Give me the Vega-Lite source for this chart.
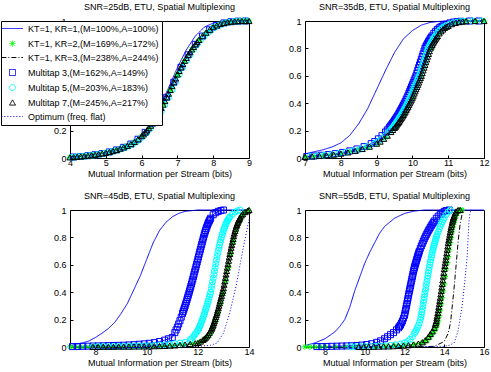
{
"$schema":"https://vega.github.io/schema/vega-lite/v6.json",
"padding":{"left":0,"top":2,"right":2,"bottom":2},
"config":{
"font":"Liberation Sans",
"view":{"stroke":"black","strokeWidth":1},
"axis":{"grid":false,"domain":false,"tickColor":"black","tickSize":-3,"labelColor":"black","labelFontSize":9,"titleFontSize":9,"titleFontWeight":"normal","titleColor":"black","labelFlush":false},
"axisX":{"labelPadding":3,"titlePadding":2},
"axisY":{"labelPadding":7},
"title":{"fontSize":9,"fontWeight":"normal","color":"black","offset":4},
"line":{"strokeWidth":1,"clip":true},
"point":{"filled":false,"strokeWidth":1,"size":36,"opacity":1,"clip":true}
},
"datasets":{
"p1":[
{"s":"a","x":4,"y":0.006},{"s":"a","x":4.5,"y":0.018},{"s":"a","x":5,"y":0.04},{"s":"a","x":5.5,"y":0.082},{"s":"a","x":5.75,"y":0.115},{"s":"a","x":6,"y":0.17},{"s":"a","x":6.25,"y":0.25},{"s":"a","x":6.5,"y":0.37},{"s":"a","x":6.75,"y":0.51},{"s":"a","x":7,"y":0.66},{"s":"a","x":7.25,"y":0.79},{"s":"a","x":7.5,"y":0.89},{"s":"a","x":7.75,"y":0.955},{"s":"a","x":8,"y":0.985},{"s":"a","x":8.25,"y":0.997},{"s":"a","x":8.5,"y":1},{"s":"a","x":9,"y":1},
{"s":"b","x":4,"y":0.005},{"s":"b","x":4.2,"y":0.009},{"s":"b","x":4.4,"y":0.014},{"s":"b","x":4.6,"y":0.02},{"s":"b","x":4.8,"y":0.028},{"s":"b","x":5,"y":0.038},{"s":"b","x":5.2,"y":0.051},{"s":"b","x":5.4,"y":0.068},{"s":"b","x":5.6,"y":0.089},{"s":"b","x":5.8,"y":0.118},{"s":"b","x":6,"y":0.16},{"s":"b","x":6.2,"y":0.218},{"s":"b","x":6.4,"y":0.295},{"s":"b","x":6.6,"y":0.39},{"s":"b","x":6.8,"y":0.497},{"s":"b","x":7,"y":0.61},{"s":"b","x":7.2,"y":0.71},{"s":"b","x":7.4,"y":0.793},{"s":"b","x":7.6,"y":0.862},{"s":"b","x":7.8,"y":0.915},{"s":"b","x":8,"y":0.955},{"s":"b","x":8.2,"y":0.978},{"s":"b","x":8.4,"y":0.991},{"s":"b","x":8.6,"y":0.997},{"s":"b","x":8.8,"y":1},{"s":"b","x":9,"y":1},
{"s":"c","x":4,"y":0.005},{"s":"c","x":4.25,"y":0.01},{"s":"c","x":4.5,"y":0.017},{"s":"c","x":4.75,"y":0.026},{"s":"c","x":5,"y":0.038},{"s":"c","x":5.25,"y":0.055},{"s":"c","x":5.5,"y":0.078},{"s":"c","x":5.75,"y":0.11},{"s":"c","x":6,"y":0.16},{"s":"c","x":6.25,"y":0.235},{"s":"c","x":6.5,"y":0.34},{"s":"c","x":6.75,"y":0.47},{"s":"c","x":7,"y":0.61},{"s":"c","x":7.25,"y":0.73},{"s":"c","x":7.5,"y":0.83},{"s":"c","x":7.75,"y":0.905},{"s":"c","x":8,"y":0.955},{"s":"c","x":8.25,"y":0.982},{"s":"c","x":8.5,"y":0.995},{"s":"c","x":8.75,"y":1},{"s":"c","x":9,"y":1},
{"s":"d","x":4.1,"y":0.007},{"s":"d","x":4.3,"y":0.011},{"s":"d","x":4.5,"y":0.017},{"s":"d","x":4.7,"y":0.024},{"s":"d","x":4.9,"y":0.033},{"s":"d","x":5.1,"y":0.044},{"s":"d","x":5.3,"y":0.059},{"s":"d","x":5.5,"y":0.078},{"s":"d","x":5.7,"y":0.102},{"s":"d","x":5.9,"y":0.137},{"s":"d","x":6.1,"y":0.187},{"s":"d","x":6.3,"y":0.254},{"s":"d","x":6.5,"y":0.34},{"s":"d","x":6.7,"y":0.443},{"s":"d","x":6.9,"y":0.553},{"s":"d","x":7.1,"y":0.662},{"s":"d","x":7.3,"y":0.753},{"s":"d","x":7.5,"y":0.83},{"s":"d","x":7.7,"y":0.89},{"s":"d","x":7.9,"y":0.936},{"s":"d","x":8.1,"y":0.968},{"s":"d","x":8.3,"y":0.986},{"s":"d","x":8.5,"y":0.995},{"s":"d","x":8.7,"y":0.999},{"s":"d","x":8.9,"y":1},
{"s":"e","x":4.05,"y":0.005},{"s":"e","x":4.15,"y":0.007},{"s":"e","x":4.25,"y":0.009},{"s":"e","x":4.35,"y":0.011},{"s":"e","x":4.45,"y":0.014},{"s":"e","x":4.55,"y":0.017},{"s":"e","x":4.65,"y":0.02},{"s":"e","x":4.75,"y":0.024},{"s":"e","x":4.85,"y":0.028},{"s":"e","x":4.95,"y":0.033},{"s":"e","x":5.05,"y":0.038},{"s":"e","x":5.15,"y":0.044},{"s":"e","x":5.25,"y":0.051},{"s":"e","x":5.35,"y":0.059},{"s":"e","x":5.45,"y":0.068},{"s":"e","x":5.55,"y":0.078},{"s":"e","x":5.65,"y":0.089},{"s":"e","x":5.75,"y":0.102},{"s":"e","x":5.85,"y":0.118},{"s":"e","x":5.95,"y":0.137},{"s":"e","x":6.05,"y":0.16},{"s":"e","x":6.15,"y":0.187},{"s":"e","x":6.25,"y":0.218},{"s":"e","x":6.35,"y":0.254},{"s":"e","x":6.45,"y":0.295},{"s":"e","x":6.55,"y":0.34},{"s":"e","x":6.65,"y":0.39},{"s":"e","x":6.75,"y":0.443},{"s":"e","x":6.85,"y":0.497},{"s":"e","x":6.95,"y":0.553},{"s":"e","x":7.05,"y":0.61},{"s":"e","x":7.15,"y":0.662},{"s":"e","x":7.25,"y":0.71},{"s":"e","x":7.35,"y":0.753},{"s":"e","x":7.45,"y":0.793},{"s":"e","x":7.55,"y":0.83},{"s":"e","x":7.65,"y":0.862},{"s":"e","x":7.75,"y":0.89},{"s":"e","x":7.85,"y":0.915},{"s":"e","x":7.95,"y":0.936},{"s":"e","x":8.05,"y":0.955},{"s":"e","x":8.15,"y":0.968},{"s":"e","x":8.25,"y":0.978},{"s":"e","x":8.35,"y":0.986},{"s":"e","x":8.45,"y":0.991},{"s":"e","x":8.55,"y":0.995},{"s":"e","x":8.65,"y":0.997},{"s":"e","x":8.75,"y":0.999},{"s":"e","x":8.85,"y":1},{"s":"e","x":8.95,"y":1},
{"s":"f","x":4,"y":0.005},{"s":"f","x":4.1,"y":0.007},{"s":"f","x":4.2,"y":0.009},{"s":"f","x":4.3,"y":0.011},{"s":"f","x":4.4,"y":0.014},{"s":"f","x":4.5,"y":0.017},{"s":"f","x":4.6,"y":0.02},{"s":"f","x":4.7,"y":0.024},{"s":"f","x":4.8,"y":0.028},{"s":"f","x":4.9,"y":0.033},{"s":"f","x":5,"y":0.038},{"s":"f","x":5.1,"y":0.044},{"s":"f","x":5.2,"y":0.051},{"s":"f","x":5.3,"y":0.059},{"s":"f","x":5.4,"y":0.068},{"s":"f","x":5.5,"y":0.078},{"s":"f","x":5.6,"y":0.089},{"s":"f","x":5.7,"y":0.102},{"s":"f","x":5.8,"y":0.118},{"s":"f","x":5.9,"y":0.137},{"s":"f","x":6,"y":0.16},{"s":"f","x":6.1,"y":0.187},{"s":"f","x":6.2,"y":0.218},{"s":"f","x":6.3,"y":0.254},{"s":"f","x":6.4,"y":0.295},{"s":"f","x":6.5,"y":0.34},{"s":"f","x":6.6,"y":0.39},{"s":"f","x":6.7,"y":0.443},{"s":"f","x":6.8,"y":0.497},{"s":"f","x":6.9,"y":0.553},{"s":"f","x":7,"y":0.61},{"s":"f","x":7.1,"y":0.662},{"s":"f","x":7.2,"y":0.71},{"s":"f","x":7.3,"y":0.753},{"s":"f","x":7.4,"y":0.793},{"s":"f","x":7.5,"y":0.83},{"s":"f","x":7.6,"y":0.862},{"s":"f","x":7.7,"y":0.89},{"s":"f","x":7.8,"y":0.915},{"s":"f","x":7.9,"y":0.936},{"s":"f","x":8,"y":0.955},{"s":"f","x":8.1,"y":0.968},{"s":"f","x":8.2,"y":0.978},{"s":"f","x":8.3,"y":0.986},{"s":"f","x":8.4,"y":0.991},{"s":"f","x":8.5,"y":0.995},{"s":"f","x":8.6,"y":0.997},{"s":"f","x":8.7,"y":0.999},{"s":"f","x":8.8,"y":1},{"s":"f","x":8.9,"y":1},{"s":"f","x":9,"y":1},
{"s":"f","x":6.05,"y":0.173},{"s":"f","x":6.15,"y":0.202},{"s":"f","x":6.25,"y":0.236},{"s":"f","x":6.35,"y":0.274},{"s":"f","x":6.45,"y":0.317},{"s":"f","x":6.55,"y":0.365},{"s":"f","x":6.65,"y":0.416},{"s":"f","x":6.75,"y":0.47},{"s":"f","x":6.85,"y":0.525},{"s":"f","x":6.95,"y":0.581},{"s":"f","x":7.05,"y":0.636},{"s":"f","x":7.15,"y":0.686},{"s":"f","x":7.25,"y":0.731},{"s":"f","x":7.35,"y":0.773},{"s":"f","x":7.45,"y":0.811},{"s":"f","x":7.55,"y":0.846},
{"s":"g","x":4,"y":0.005},{"s":"g","x":4.25,"y":0.01},{"s":"g","x":4.5,"y":0.017},{"s":"g","x":4.75,"y":0.026},{"s":"g","x":5,"y":0.038},{"s":"g","x":5.25,"y":0.055},{"s":"g","x":5.5,"y":0.078},{"s":"g","x":5.75,"y":0.11},{"s":"g","x":6,"y":0.16},{"s":"g","x":6.25,"y":0.235},{"s":"g","x":6.5,"y":0.34},{"s":"g","x":6.75,"y":0.47},{"s":"g","x":7,"y":0.61},{"s":"g","x":7.25,"y":0.73},{"s":"g","x":7.5,"y":0.83},{"s":"g","x":7.75,"y":0.905},{"s":"g","x":8,"y":0.955},{"s":"g","x":8.25,"y":0.982},{"s":"g","x":8.5,"y":0.995},{"s":"g","x":8.75,"y":1},{"s":"g","x":9,"y":1}
],
"p2":[
{"s":"a","x":7,"y":0.03},{"s":"a","x":7.25,"y":0.045},{"s":"a","x":7.5,"y":0.06},{"s":"a","x":7.75,"y":0.08},{"s":"a","x":8,"y":0.11},{"s":"a","x":8.25,"y":0.165},{"s":"a","x":8.5,"y":0.25},{"s":"a","x":8.75,"y":0.36},{"s":"a","x":9,"y":0.5},{"s":"a","x":9.25,"y":0.64},{"s":"a","x":9.5,"y":0.77},{"s":"a","x":9.75,"y":0.87},{"s":"a","x":10,"y":0.93},{"s":"a","x":10.25,"y":0.97},{"s":"a","x":10.5,"y":0.99},{"s":"a","x":10.75,"y":0.997},{"s":"a","x":11,"y":1},{"s":"a","x":12,"y":1},
{"s":"b","x":7,"y":0.008},{"s":"b","x":7.25,"y":0.012},{"s":"b","x":7.5,"y":0.017},{"s":"b","x":7.75,"y":0.024},{"s":"b","x":8,"y":0.032},{"s":"b","x":8.25,"y":0.043},{"s":"b","x":8.5,"y":0.058},{"s":"b","x":8.75,"y":0.078},{"s":"b","x":9,"y":0.105},{"s":"b","x":9.25,"y":0.15},{"s":"b","x":9.5,"y":0.22},{"s":"b","x":9.75,"y":0.315},{"s":"b","x":10,"y":0.44},{"s":"b","x":10.25,"y":0.6},{"s":"b","x":10.5,"y":0.8},{"s":"b","x":10.75,"y":0.91},{"s":"b","x":11,"y":0.965},{"s":"b","x":11.25,"y":0.99},{"s":"b","x":11.5,"y":0.998},{"s":"b","x":11.75,"y":1},{"s":"b","x":12,"y":1},
{"s":"c","x":7,"y":0.008},{"s":"c","x":7.25,"y":0.012},{"s":"c","x":7.5,"y":0.017},{"s":"c","x":7.75,"y":0.024},{"s":"c","x":8,"y":0.032},{"s":"c","x":8.25,"y":0.043},{"s":"c","x":8.5,"y":0.058},{"s":"c","x":8.75,"y":0.078},{"s":"c","x":9,"y":0.105},{"s":"c","x":9.25,"y":0.15},{"s":"c","x":9.5,"y":0.22},{"s":"c","x":9.75,"y":0.315},{"s":"c","x":10,"y":0.44},{"s":"c","x":10.25,"y":0.6},{"s":"c","x":10.5,"y":0.8},{"s":"c","x":10.75,"y":0.91},{"s":"c","x":11,"y":0.965},{"s":"c","x":11.25,"y":0.99},{"s":"c","x":11.5,"y":0.998},{"s":"c","x":11.75,"y":1},{"s":"c","x":12,"y":1},
{"s":"d","x":7.05,"y":0.011},{"s":"d","x":7.25,"y":0.015},{"s":"d","x":7.45,"y":0.02},{"s":"d","x":7.65,"y":0.025},{"s":"d","x":7.85,"y":0.032},{"s":"d","x":8.05,"y":0.041},{"s":"d","x":8.25,"y":0.052},{"s":"d","x":8.45,"y":0.066},{"s":"d","x":8.65,"y":0.083},{"s":"d","x":8.85,"y":0.105},{"s":"d","x":8.95,"y":0.12},{"s":"d","x":9.05,"y":0.14},{"s":"d","x":9.15,"y":0.163},{"s":"d","x":9.25,"y":0.19},{"s":"d","x":9.3,"y":0.205},{"s":"d","x":9.35,"y":0.22},{"s":"d","x":9.4,"y":0.237},{"s":"d","x":9.45,"y":0.255},{"s":"d","x":9.5,"y":0.274},{"s":"d","x":9.55,"y":0.294},{"s":"d","x":9.6,"y":0.315},{"s":"d","x":9.65,"y":0.338},{"s":"d","x":9.7,"y":0.362},{"s":"d","x":9.75,"y":0.387},{"s":"d","x":9.8,"y":0.413},{"s":"d","x":9.85,"y":0.44},{"s":"d","x":9.9,"y":0.471},{"s":"d","x":9.95,"y":0.503},{"s":"d","x":10,"y":0.535},{"s":"d","x":10.05,"y":0.568},{"s":"d","x":10.1,"y":0.6},{"s":"d","x":10.15,"y":0.64},{"s":"d","x":10.2,"y":0.68},{"s":"d","x":10.25,"y":0.72},{"s":"d","x":10.3,"y":0.76},{"s":"d","x":10.35,"y":0.8},{"s":"d","x":10.4,"y":0.826},{"s":"d","x":10.45,"y":0.85},{"s":"d","x":10.5,"y":0.871},{"s":"d","x":10.55,"y":0.891},{"s":"d","x":10.6,"y":0.91},{"s":"d","x":10.65,"y":0.925},{"s":"d","x":10.7,"y":0.938},{"s":"d","x":10.75,"y":0.95},{"s":"d","x":10.8,"y":0.958},{"s":"d","x":10.85,"y":0.965},{"s":"d","x":10.95,"y":0.977},{"s":"d","x":11.05,"y":0.986},{"s":"d","x":11.15,"y":0.992},{"s":"d","x":11.25,"y":0.996},{"s":"d","x":11.35,"y":0.998},{"s":"d","x":11.6,"y":1},{"s":"d","x":11.85,"y":1},
{"s":"d","x":9.375,"y":0.228},{"s":"d","x":9.425,"y":0.246},{"s":"d","x":9.475,"y":0.264},{"s":"d","x":9.525,"y":0.284},{"s":"d","x":9.575,"y":0.304},{"s":"d","x":9.625,"y":0.326},{"s":"d","x":9.675,"y":0.35},{"s":"d","x":9.725,"y":0.374},{"s":"d","x":9.775,"y":0.4},{"s":"d","x":9.825,"y":0.426},{"s":"d","x":9.875,"y":0.455},{"s":"d","x":9.925,"y":0.487},{"s":"d","x":9.975,"y":0.519},{"s":"d","x":10.025,"y":0.551},{"s":"d","x":10.075,"y":0.584},{"s":"d","x":10.125,"y":0.62},{"s":"d","x":10.175,"y":0.66},{"s":"d","x":10.225,"y":0.7},{"s":"d","x":10.275,"y":0.74},{"s":"d","x":10.325,"y":0.78},{"s":"d","x":10.375,"y":0.813},{"s":"d","x":10.425,"y":0.838},{"s":"d","x":10.475,"y":0.86},{"s":"d","x":10.525,"y":0.881},
{"s":"e","x":7.14,"y":0.011},{"s":"e","x":7.34,"y":0.015},{"s":"e","x":7.54,"y":0.02},{"s":"e","x":7.74,"y":0.025},{"s":"e","x":7.94,"y":0.032},{"s":"e","x":8.14,"y":0.041},{"s":"e","x":8.34,"y":0.052},{"s":"e","x":8.54,"y":0.066},{"s":"e","x":8.74,"y":0.083},{"s":"e","x":8.94,"y":0.105},{"s":"e","x":9.04,"y":0.12},{"s":"e","x":9.14,"y":0.14},{"s":"e","x":9.24,"y":0.163},{"s":"e","x":9.34,"y":0.19},{"s":"e","x":9.39,"y":0.205},{"s":"e","x":9.44,"y":0.22},{"s":"e","x":9.49,"y":0.237},{"s":"e","x":9.54,"y":0.255},{"s":"e","x":9.59,"y":0.274},{"s":"e","x":9.64,"y":0.294},{"s":"e","x":9.69,"y":0.315},{"s":"e","x":9.74,"y":0.338},{"s":"e","x":9.79,"y":0.362},{"s":"e","x":9.84,"y":0.387},{"s":"e","x":9.89,"y":0.413},{"s":"e","x":9.94,"y":0.44},{"s":"e","x":9.99,"y":0.471},{"s":"e","x":10.04,"y":0.503},{"s":"e","x":10.09,"y":0.535},{"s":"e","x":10.14,"y":0.568},{"s":"e","x":10.19,"y":0.6},{"s":"e","x":10.24,"y":0.64},{"s":"e","x":10.29,"y":0.68},{"s":"e","x":10.34,"y":0.72},{"s":"e","x":10.39,"y":0.76},{"s":"e","x":10.44,"y":0.8},{"s":"e","x":10.49,"y":0.826},{"s":"e","x":10.54,"y":0.85},{"s":"e","x":10.59,"y":0.871},{"s":"e","x":10.64,"y":0.891},{"s":"e","x":10.69,"y":0.91},{"s":"e","x":10.74,"y":0.925},{"s":"e","x":10.79,"y":0.938},{"s":"e","x":10.84,"y":0.95},{"s":"e","x":10.89,"y":0.958},{"s":"e","x":10.94,"y":0.965},{"s":"e","x":11.04,"y":0.977},{"s":"e","x":11.14,"y":0.986},{"s":"e","x":11.24,"y":0.992},{"s":"e","x":11.34,"y":0.996},{"s":"e","x":11.44,"y":0.998},{"s":"e","x":11.69,"y":1},{"s":"e","x":11.94,"y":1},
{"s":"e","x":9.465,"y":0.228},{"s":"e","x":9.515,"y":0.246},{"s":"e","x":9.565,"y":0.264},{"s":"e","x":9.615,"y":0.284},{"s":"e","x":9.665,"y":0.304},{"s":"e","x":9.715,"y":0.326},{"s":"e","x":9.765,"y":0.35},{"s":"e","x":9.815,"y":0.374},{"s":"e","x":9.865,"y":0.4},{"s":"e","x":9.915,"y":0.426},{"s":"e","x":9.965,"y":0.455},{"s":"e","x":10.015,"y":0.487},{"s":"e","x":10.065,"y":0.519},{"s":"e","x":10.115,"y":0.551},{"s":"e","x":10.165,"y":0.584},{"s":"e","x":10.215,"y":0.62},{"s":"e","x":10.265,"y":0.66},{"s":"e","x":10.315,"y":0.7},{"s":"e","x":10.365,"y":0.74},{"s":"e","x":10.415,"y":0.78},{"s":"e","x":10.465,"y":0.813},{"s":"e","x":10.515,"y":0.838},{"s":"e","x":10.565,"y":0.86},{"s":"e","x":10.615,"y":0.881},
{"s":"f","x":7,"y":0.008},{"s":"f","x":7.2,"y":0.011},{"s":"f","x":7.4,"y":0.015},{"s":"f","x":7.6,"y":0.02},{"s":"f","x":7.8,"y":0.025},{"s":"f","x":8,"y":0.032},{"s":"f","x":8.2,"y":0.041},{"s":"f","x":8.4,"y":0.052},{"s":"f","x":8.6,"y":0.066},{"s":"f","x":8.8,"y":0.083},{"s":"f","x":9,"y":0.105},{"s":"f","x":9.1,"y":0.12},{"s":"f","x":9.2,"y":0.14},{"s":"f","x":9.3,"y":0.163},{"s":"f","x":9.4,"y":0.19},{"s":"f","x":9.45,"y":0.205},{"s":"f","x":9.5,"y":0.22},{"s":"f","x":9.55,"y":0.237},{"s":"f","x":9.6,"y":0.255},{"s":"f","x":9.65,"y":0.274},{"s":"f","x":9.7,"y":0.294},{"s":"f","x":9.75,"y":0.315},{"s":"f","x":9.8,"y":0.338},{"s":"f","x":9.85,"y":0.362},{"s":"f","x":9.9,"y":0.387},{"s":"f","x":9.95,"y":0.413},{"s":"f","x":10,"y":0.44},{"s":"f","x":10.05,"y":0.471},{"s":"f","x":10.1,"y":0.503},{"s":"f","x":10.15,"y":0.535},{"s":"f","x":10.2,"y":0.568},{"s":"f","x":10.25,"y":0.6},{"s":"f","x":10.3,"y":0.64},{"s":"f","x":10.35,"y":0.68},{"s":"f","x":10.4,"y":0.72},{"s":"f","x":10.45,"y":0.76},{"s":"f","x":10.5,"y":0.8},{"s":"f","x":10.55,"y":0.826},{"s":"f","x":10.6,"y":0.85},{"s":"f","x":10.65,"y":0.871},{"s":"f","x":10.7,"y":0.891},{"s":"f","x":10.75,"y":0.91},{"s":"f","x":10.8,"y":0.925},{"s":"f","x":10.85,"y":0.938},{"s":"f","x":10.9,"y":0.95},{"s":"f","x":10.95,"y":0.958},{"s":"f","x":11,"y":0.965},{"s":"f","x":11.1,"y":0.977},{"s":"f","x":11.2,"y":0.986},{"s":"f","x":11.3,"y":0.992},{"s":"f","x":11.4,"y":0.996},{"s":"f","x":11.5,"y":0.998},{"s":"f","x":11.75,"y":1},{"s":"f","x":12,"y":1},
{"s":"f","x":9.525,"y":0.228},{"s":"f","x":9.575,"y":0.246},{"s":"f","x":9.625,"y":0.264},{"s":"f","x":9.675,"y":0.284},{"s":"f","x":9.725,"y":0.304},{"s":"f","x":9.775,"y":0.326},{"s":"f","x":9.825,"y":0.35},{"s":"f","x":9.875,"y":0.374},{"s":"f","x":9.925,"y":0.4},{"s":"f","x":9.975,"y":0.426},{"s":"f","x":10.025,"y":0.455},{"s":"f","x":10.075,"y":0.487},{"s":"f","x":10.125,"y":0.519},{"s":"f","x":10.175,"y":0.551},{"s":"f","x":10.225,"y":0.584},{"s":"f","x":10.275,"y":0.62},{"s":"f","x":10.325,"y":0.66},{"s":"f","x":10.375,"y":0.7},{"s":"f","x":10.425,"y":0.74},{"s":"f","x":10.475,"y":0.78},{"s":"f","x":10.525,"y":0.813},{"s":"f","x":10.575,"y":0.838},{"s":"f","x":10.625,"y":0.86},{"s":"f","x":10.675,"y":0.881},
{"s":"g","x":7,"y":0.008},{"s":"g","x":7.25,"y":0.012},{"s":"g","x":7.5,"y":0.017},{"s":"g","x":7.75,"y":0.024},{"s":"g","x":8,"y":0.032},{"s":"g","x":8.25,"y":0.043},{"s":"g","x":8.5,"y":0.058},{"s":"g","x":8.75,"y":0.078},{"s":"g","x":9,"y":0.105},{"s":"g","x":9.25,"y":0.15},{"s":"g","x":9.5,"y":0.22},{"s":"g","x":9.75,"y":0.315},{"s":"g","x":10,"y":0.44},{"s":"g","x":10.25,"y":0.6},{"s":"g","x":10.5,"y":0.8},{"s":"g","x":10.75,"y":0.91},{"s":"g","x":11,"y":0.965},{"s":"g","x":11.25,"y":0.99},{"s":"g","x":11.5,"y":0.998},{"s":"g","x":11.75,"y":1},{"s":"g","x":12,"y":1}
],
"p3":[
{"s":"a","x":7,"y":0.01},{"s":"a","x":7.25,"y":0.02},{"s":"a","x":7.5,"y":0.03},{"s":"a","x":7.75,"y":0.045},{"s":"a","x":8,"y":0.07},{"s":"a","x":8.25,"y":0.1},{"s":"a","x":8.5,"y":0.135},{"s":"a","x":8.75,"y":0.18},{"s":"a","x":9,"y":0.245},{"s":"a","x":9.25,"y":0.32},{"s":"a","x":9.5,"y":0.42},{"s":"a","x":9.75,"y":0.52},{"s":"a","x":10,"y":0.64},{"s":"a","x":10.25,"y":0.76},{"s":"a","x":10.5,"y":0.85},{"s":"a","x":10.75,"y":0.91},{"s":"a","x":11,"y":0.95},{"s":"a","x":11.25,"y":0.975},{"s":"a","x":11.5,"y":0.99},{"s":"a","x":12,"y":1},{"s":"a","x":14,"y":1},
{"s":"b","x":7,"y":0.001},{"s":"b","x":7.2,"y":0.001},{"s":"b","x":7.4,"y":0.001},{"s":"b","x":7.6,"y":0.001},{"s":"b","x":7.8,"y":0.001},{"s":"b","x":8.2,"y":0.002},{"s":"b","x":8.6,"y":0.002},{"s":"b","x":9,"y":0.003},{"s":"b","x":9.4,"y":0.003},{"s":"b","x":9.8,"y":0.004},{"s":"b","x":10.2,"y":0.005},{"s":"b","x":10.6,"y":0.007},{"s":"b","x":11,"y":0.01},{"s":"b","x":11.4,"y":0.016},{"s":"b","x":11.8,"y":0.024},{"s":"b","x":12.04,"y":0.03},{"s":"b","x":12.14,"y":0.04},{"s":"b","x":12.24,"y":0.052},{"s":"b","x":12.29,"y":0.06},{"s":"b","x":12.39,"y":0.078},{"s":"b","x":12.49,"y":0.104},{"s":"b","x":12.59,"y":0.14},{"s":"b","x":12.69,"y":0.19},{"s":"b","x":12.79,"y":0.25},{"s":"b","x":12.89,"y":0.32},{"s":"b","x":12.99,"y":0.393},{"s":"b","x":13.09,"y":0.48},{"s":"b","x":13.19,"y":0.58},{"s":"b","x":13.29,"y":0.68},{"s":"b","x":13.39,"y":0.768},{"s":"b","x":13.49,"y":0.848},{"s":"b","x":13.59,"y":0.905},{"s":"b","x":13.69,"y":0.945},{"s":"b","x":13.79,"y":0.97},{"s":"b","x":13.89,"y":0.985},{"s":"b","x":13.99,"y":0.995},
{"s":"c","x":7.9,"y":0.001},{"s":"c","x":9,"y":0.002},{"s":"c","x":10,"y":0.003},{"s":"c","x":11,"y":0.006},{"s":"c","x":11.5,"y":0.012},{"s":"c","x":12,"y":0.025},{"s":"c","x":12.25,"y":0.045},{"s":"c","x":12.5,"y":0.09},{"s":"c","x":12.75,"y":0.2},{"s":"c","x":13,"y":0.38},{"s":"c","x":13.25,"y":0.62},{"s":"c","x":13.5,"y":0.84},{"s":"c","x":13.75,"y":0.95},{"s":"c","x":14,"y":0.99},
{"s":"d","x":7.1,"y":0.003},{"s":"d","x":7.3,"y":0.004},{"s":"d","x":7.5,"y":0.005},{"s":"d","x":7.7,"y":0.006},{"s":"d","x":7.9,"y":0.007},{"s":"d","x":8.1,"y":0.008},{"s":"d","x":8.3,"y":0.009},{"s":"d","x":8.5,"y":0.01},{"s":"d","x":8.7,"y":0.011},{"s":"d","x":8.9,"y":0.012},{"s":"d","x":9.1,"y":0.013},{"s":"d","x":9.3,"y":0.015},{"s":"d","x":9.5,"y":0.017},{"s":"d","x":9.7,"y":0.02},{"s":"d","x":9.9,"y":0.023},{"s":"d","x":10.1,"y":0.027},{"s":"d","x":10.3,"y":0.032},{"s":"d","x":10.5,"y":0.04},{"s":"d","x":10.7,"y":0.05},{"s":"d","x":10.85,"y":0.06},{"s":"d","x":11,"y":0.07},{"s":"d","x":11.1,"y":0.105},{"s":"d","x":11.2,"y":0.145},{"s":"d","x":11.3,"y":0.192},{"s":"d","x":11.4,"y":0.245},{"s":"d","x":11.45,"y":0.272},{"s":"d","x":11.5,"y":0.3},{"s":"d","x":11.55,"y":0.33},{"s":"d","x":11.6,"y":0.362},{"s":"d","x":11.65,"y":0.394},{"s":"d","x":11.7,"y":0.427},{"s":"d","x":11.75,"y":0.46},{"s":"d","x":11.8,"y":0.495},{"s":"d","x":11.85,"y":0.531},{"s":"d","x":11.9,"y":0.567},{"s":"d","x":11.95,"y":0.603},{"s":"d","x":12,"y":0.64},{"s":"d","x":12.05,"y":0.677},{"s":"d","x":12.1,"y":0.713},{"s":"d","x":12.15,"y":0.749},{"s":"d","x":12.2,"y":0.785},{"s":"d","x":12.25,"y":0.82},{"s":"d","x":12.3,"y":0.85},{"s":"d","x":12.35,"y":0.877},{"s":"d","x":12.4,"y":0.902},{"s":"d","x":12.45,"y":0.922},{"s":"d","x":12.5,"y":0.94},{"s":"d","x":12.6,"y":0.965},{"s":"d","x":12.7,"y":0.98},{"s":"d","x":12.8,"y":0.99},{"s":"d","x":12.9,"y":0.996},{"s":"d","x":13,"y":1},
{"s":"d","x":11.15,"y":0.125},{"s":"d","x":11.25,"y":0.168},{"s":"d","x":11.35,"y":0.218},{"s":"d","x":11.425,"y":0.258},{"s":"d","x":11.475,"y":0.286},{"s":"d","x":11.525,"y":0.315},{"s":"d","x":11.575,"y":0.346},{"s":"d","x":11.625,"y":0.378},{"s":"d","x":11.675,"y":0.41},{"s":"d","x":11.725,"y":0.443},{"s":"d","x":11.775,"y":0.477},{"s":"d","x":11.825,"y":0.513},{"s":"d","x":11.875,"y":0.549},{"s":"d","x":11.925,"y":0.585},{"s":"d","x":11.975,"y":0.621},{"s":"d","x":12.025,"y":0.658},{"s":"d","x":12.075,"y":0.695},{"s":"d","x":12.125,"y":0.731},{"s":"d","x":12.175,"y":0.767},{"s":"d","x":12.225,"y":0.802},{"s":"d","x":12.275,"y":0.835},{"s":"d","x":12.325,"y":0.863},{"s":"d","x":12.375,"y":0.89},{"s":"d","x":12.425,"y":0.912},{"s":"d","x":12.475,"y":0.931},
{"s":"e","x":7.9,"y":0.002},{"s":"e","x":8.1,"y":0.002},{"s":"e","x":8.3,"y":0.003},{"s":"e","x":8.5,"y":0.003},{"s":"e","x":8.7,"y":0.004},{"s":"e","x":8.9,"y":0.004},{"s":"e","x":9.1,"y":0.005},{"s":"e","x":9.3,"y":0.005},{"s":"e","x":9.5,"y":0.006},{"s":"e","x":9.7,"y":0.007},{"s":"e","x":9.9,"y":0.008},{"s":"e","x":10.1,"y":0.009},{"s":"e","x":10.3,"y":0.011},{"s":"e","x":10.5,"y":0.013},{"s":"e","x":10.7,"y":0.016},{"s":"e","x":10.9,"y":0.02},{"s":"e","x":11.1,"y":0.024},{"s":"e","x":11.3,"y":0.029},{"s":"e","x":11.5,"y":0.035},{"s":"e","x":11.7,"y":0.053},{"s":"e","x":11.75,"y":0.06},{"s":"e","x":11.8,"y":0.07},{"s":"e","x":11.85,"y":0.082},{"s":"e","x":11.9,"y":0.095},{"s":"e","x":11.95,"y":0.108},{"s":"e","x":12,"y":0.12},{"s":"e","x":12.05,"y":0.14},{"s":"e","x":12.1,"y":0.162},{"s":"e","x":12.15,"y":0.187},{"s":"e","x":12.2,"y":0.213},{"s":"e","x":12.25,"y":0.24},{"s":"e","x":12.3,"y":0.27},{"s":"e","x":12.35,"y":0.3},{"s":"e","x":12.4,"y":0.333},{"s":"e","x":12.45,"y":0.366},{"s":"e","x":12.5,"y":0.4},{"s":"e","x":12.55,"y":0.45},{"s":"e","x":12.6,"y":0.502},{"s":"e","x":12.65,"y":0.555},{"s":"e","x":12.7,"y":0.607},{"s":"e","x":12.75,"y":0.66},{"s":"e","x":12.8,"y":0.705},{"s":"e","x":12.85,"y":0.745},{"s":"e","x":12.9,"y":0.785},{"s":"e","x":12.95,"y":0.82},{"s":"e","x":13,"y":0.85},{"s":"e","x":13.05,"y":0.875},{"s":"e","x":13.1,"y":0.9},{"s":"e","x":13.15,"y":0.92},{"s":"e","x":13.2,"y":0.937},{"s":"e","x":13.25,"y":0.95},{"s":"e","x":13.35,"y":0.97},{"s":"e","x":13.45,"y":0.985},{"s":"e","x":13.55,"y":0.994},{"s":"e","x":13.65,"y":1},
{"s":"e","x":12.025,"y":0.13},{"s":"e","x":12.075,"y":0.151},{"s":"e","x":12.125,"y":0.174},{"s":"e","x":12.175,"y":0.2},{"s":"e","x":12.225,"y":0.226},{"s":"e","x":12.275,"y":0.255},{"s":"e","x":12.325,"y":0.285},{"s":"e","x":12.375,"y":0.316},{"s":"e","x":12.425,"y":0.349},{"s":"e","x":12.475,"y":0.383},{"s":"e","x":12.525,"y":0.425},{"s":"e","x":12.575,"y":0.476},{"s":"e","x":12.625,"y":0.528},{"s":"e","x":12.675,"y":0.581},{"s":"e","x":12.725,"y":0.633},{"s":"e","x":12.775,"y":0.682},{"s":"e","x":12.825,"y":0.725},{"s":"e","x":12.875,"y":0.765},{"s":"e","x":12.925,"y":0.802},{"s":"e","x":12.975,"y":0.835},{"s":"e","x":13.025,"y":0.862},{"s":"e","x":13.075,"y":0.887},{"s":"e","x":13.125,"y":0.91},{"s":"e","x":13.175,"y":0.928},{"s":"e","x":13.225,"y":0.943},
{"s":"f","x":7.9,"y":0.001},{"s":"f","x":8.1,"y":0.001},{"s":"f","x":8.3,"y":0.002},{"s":"f","x":8.5,"y":0.002},{"s":"f","x":8.7,"y":0.002},{"s":"f","x":8.9,"y":0.003},{"s":"f","x":9.1,"y":0.003},{"s":"f","x":9.3,"y":0.003},{"s":"f","x":9.5,"y":0.004},{"s":"f","x":9.7,"y":0.004},{"s":"f","x":9.9,"y":0.005},{"s":"f","x":10.1,"y":0.005},{"s":"f","x":10.3,"y":0.006},{"s":"f","x":10.5,"y":0.007},{"s":"f","x":10.7,"y":0.008},{"s":"f","x":10.9,"y":0.01},{"s":"f","x":11.1,"y":0.012},{"s":"f","x":11.3,"y":0.015},{"s":"f","x":11.5,"y":0.018},{"s":"f","x":11.7,"y":0.022},{"s":"f","x":11.9,"y":0.027},{"s":"f","x":12,"y":0.03},{"s":"f","x":12.1,"y":0.04},{"s":"f","x":12.2,"y":0.052},{"s":"f","x":12.25,"y":0.06},{"s":"f","x":12.3,"y":0.068},{"s":"f","x":12.35,"y":0.078},{"s":"f","x":12.4,"y":0.09},{"s":"f","x":12.45,"y":0.104},{"s":"f","x":12.5,"y":0.12},{"s":"f","x":12.55,"y":0.14},{"s":"f","x":12.6,"y":0.163},{"s":"f","x":12.65,"y":0.19},{"s":"f","x":12.7,"y":0.22},{"s":"f","x":12.75,"y":0.25},{"s":"f","x":12.8,"y":0.284},{"s":"f","x":12.85,"y":0.32},{"s":"f","x":12.9,"y":0.356},{"s":"f","x":12.95,"y":0.393},{"s":"f","x":13,"y":0.43},{"s":"f","x":13.05,"y":0.48},{"s":"f","x":13.1,"y":0.53},{"s":"f","x":13.15,"y":0.58},{"s":"f","x":13.2,"y":0.63},{"s":"f","x":13.25,"y":0.68},{"s":"f","x":13.3,"y":0.725},{"s":"f","x":13.35,"y":0.768},{"s":"f","x":13.4,"y":0.81},{"s":"f","x":13.45,"y":0.848},{"s":"f","x":13.5,"y":0.88},{"s":"f","x":13.55,"y":0.905},{"s":"f","x":13.6,"y":0.927},{"s":"f","x":13.65,"y":0.945},{"s":"f","x":13.7,"y":0.96},{"s":"f","x":13.75,"y":0.97},{"s":"f","x":13.85,"y":0.985},{"s":"f","x":13.95,"y":0.995},{"s":"f","x":14,"y":1},
{"s":"f","x":12.525,"y":0.13},{"s":"f","x":12.575,"y":0.151},{"s":"f","x":12.625,"y":0.176},{"s":"f","x":12.675,"y":0.205},{"s":"f","x":12.725,"y":0.235},{"s":"f","x":12.775,"y":0.267},{"s":"f","x":12.825,"y":0.302},{"s":"f","x":12.875,"y":0.338},{"s":"f","x":12.925,"y":0.374},{"s":"f","x":12.975,"y":0.411},{"s":"f","x":13.025,"y":0.455},{"s":"f","x":13.075,"y":0.505},{"s":"f","x":13.125,"y":0.555},{"s":"f","x":13.175,"y":0.605},{"s":"f","x":13.225,"y":0.655},{"s":"f","x":13.275,"y":0.702},{"s":"f","x":13.325,"y":0.746},{"s":"f","x":13.375,"y":0.789},{"s":"f","x":13.425,"y":0.829},{"s":"f","x":13.475,"y":0.864},{"s":"f","x":13.525,"y":0.892},{"s":"f","x":13.575,"y":0.916},{"s":"f","x":13.625,"y":0.936},
{"s":"g","x":7.9,"y":0.001},{"s":"g","x":10,"y":0.001},{"s":"g","x":11.5,"y":0.002},{"s":"g","x":12,"y":0.005},{"s":"g","x":12.5,"y":0.012},{"s":"g","x":12.75,"y":0.03},{"s":"g","x":13,"y":0.1},{"s":"g","x":13.25,"y":0.25},{"s":"g","x":13.5,"y":0.45},{"s":"g","x":13.75,"y":0.7},{"s":"g","x":14,"y":0.93}
],
"p4":[
{"s":"a","x":7,"y":0.01},{"s":"a","x":7.5,"y":0.03},{"s":"a","x":8,"y":0.06},{"s":"a","x":8.5,"y":0.11},{"s":"a","x":8.75,"y":0.15},{"s":"a","x":9,"y":0.2},{"s":"a","x":9.25,"y":0.29},{"s":"a","x":9.5,"y":0.41},{"s":"a","x":9.75,"y":0.51},{"s":"a","x":10,"y":0.61},{"s":"a","x":10.25,"y":0.69},{"s":"a","x":10.5,"y":0.76},{"s":"a","x":10.75,"y":0.83},{"s":"a","x":11,"y":0.88},{"s":"a","x":11.5,"y":0.94},{"s":"a","x":12,"y":0.975},{"s":"a","x":12.5,"y":0.992},{"s":"a","x":13,"y":1},{"s":"a","x":16,"y":1},
{"s":"b","x":7,"y":0.001},{"s":"b","x":7.25,"y":0.001},{"s":"b","x":7.5,"y":0.001},{"s":"b","x":7.75,"y":0.002},{"s":"b","x":8,"y":0.002},{"s":"b","x":8.5,"y":0.002},{"s":"b","x":9,"y":0.003},{"s":"b","x":9.5,"y":0.003},{"s":"b","x":10,"y":0.004},{"s":"b","x":10.5,"y":0.005},{"s":"b","x":11,"y":0.006},{"s":"b","x":11.5,"y":0.008},{"s":"b","x":12,"y":0.011},{"s":"b","x":12.5,"y":0.017},{"s":"b","x":12.8,"y":0.025},{"s":"b","x":13,"y":0.035},{"s":"b","x":13.15,"y":0.05},{"s":"b","x":13.3,"y":0.075},{"s":"b","x":13.4,"y":0.095},{"s":"b","x":13.5,"y":0.115},{"s":"b","x":13.6,"y":0.14},{"s":"b","x":13.65,"y":0.163},{"s":"b","x":13.7,"y":0.19},{"s":"b","x":13.75,"y":0.228},{"s":"b","x":13.8,"y":0.27},{"s":"b","x":13.85,"y":0.315},{"s":"b","x":13.9,"y":0.36},{"s":"b","x":13.95,"y":0.41},{"s":"b","x":14,"y":0.46},{"s":"b","x":14.05,"y":0.515},{"s":"b","x":14.1,"y":0.57},{"s":"b","x":14.15,"y":0.615},{"s":"b","x":14.2,"y":0.66},{"s":"b","x":14.25,"y":0.71},{"s":"b","x":14.3,"y":0.76},{"s":"b","x":14.35,"y":0.8},{"s":"b","x":14.4,"y":0.84},{"s":"b","x":14.45,"y":0.877},{"s":"b","x":14.5,"y":0.91},{"s":"b","x":14.55,"y":0.937},{"s":"b","x":14.6,"y":0.96},{"s":"b","x":14.65,"y":0.977},{"s":"b","x":14.7,"y":0.99},{"s":"b","x":14.8,"y":1},{"s":"b","x":14.9,"y":1},
{"s":"c","x":9.7,"y":0.001},{"s":"c","x":12,"y":0.002},{"s":"c","x":13,"y":0.003},{"s":"c","x":13.5,"y":0.005},{"s":"c","x":14,"y":0.04},{"s":"c","x":14.2,"y":0.1},{"s":"c","x":14.32,"y":0.18},{"s":"c","x":14.49,"y":0.42},{"s":"c","x":14.6,"y":0.6},{"s":"c","x":14.7,"y":0.77},{"s":"c","x":14.8,"y":0.9},{"s":"c","x":14.9,"y":0.97},{"s":"c","x":15,"y":1},
{"s":"d","x":7.6,"y":0.003},{"s":"d","x":7.85,"y":0.003},{"s":"d","x":8.1,"y":0.004},{"s":"d","x":8.35,"y":0.005},{"s":"d","x":8.6,"y":0.006},{"s":"d","x":8.85,"y":0.007},{"s":"d","x":9.1,"y":0.008},{"s":"d","x":9.35,"y":0.009},{"s":"d","x":9.6,"y":0.011},{"s":"d","x":9.85,"y":0.014},{"s":"d","x":10.1,"y":0.018},{"s":"d","x":10.35,"y":0.024},{"s":"d","x":10.6,"y":0.034},{"s":"d","x":10.8,"y":0.045},{"s":"d","x":11,"y":0.06},{"s":"d","x":11.15,"y":0.075},{"s":"d","x":11.3,"y":0.09},{"s":"d","x":11.45,"y":0.105},{"s":"d","x":11.6,"y":0.125},{"s":"d","x":11.7,"y":0.14},{"s":"d","x":11.8,"y":0.16},{"s":"d","x":11.9,"y":0.19},{"s":"d","x":12,"y":0.23},{"s":"d","x":12.05,"y":0.265},{"s":"d","x":12.1,"y":0.3},{"s":"d","x":12.15,"y":0.337},{"s":"d","x":12.2,"y":0.374},{"s":"d","x":12.25,"y":0.41},{"s":"d","x":12.3,"y":0.445},{"s":"d","x":12.35,"y":0.48},{"s":"d","x":12.4,"y":0.515},{"s":"d","x":12.45,"y":0.55},{"s":"d","x":12.5,"y":0.58},{"s":"d","x":12.55,"y":0.605},{"s":"d","x":12.6,"y":0.63},{"s":"d","x":12.65,"y":0.655},{"s":"d","x":12.7,"y":0.678},{"s":"d","x":12.75,"y":0.7},{"s":"d","x":12.8,"y":0.72},{"s":"d","x":12.85,"y":0.738},{"s":"d","x":12.9,"y":0.756},{"s":"d","x":12.95,"y":0.773},{"s":"d","x":13,"y":0.79},{"s":"d","x":13.1,"y":0.82},{"s":"d","x":13.2,"y":0.848},{"s":"d","x":13.3,"y":0.873},{"s":"d","x":13.4,"y":0.897},{"s":"d","x":13.5,"y":0.92},{"s":"d","x":13.6,"y":0.94},{"s":"d","x":13.7,"y":0.955},{"s":"d","x":13.8,"y":0.968},{"s":"d","x":13.9,"y":0.978},{"s":"d","x":14,"y":0.99},{"s":"d","x":14.1,"y":0.996},{"s":"d","x":14.25,"y":1},
{"s":"d","x":11.75,"y":0.15},{"s":"d","x":11.85,"y":0.175},{"s":"d","x":11.95,"y":0.21},{"s":"d","x":12.025,"y":0.247},{"s":"d","x":12.075,"y":0.282},{"s":"d","x":12.125,"y":0.318},{"s":"d","x":12.175,"y":0.355},{"s":"d","x":12.225,"y":0.392},{"s":"d","x":12.275,"y":0.427},{"s":"d","x":12.325,"y":0.462},{"s":"d","x":12.375,"y":0.497},{"s":"d","x":12.425,"y":0.532},{"s":"d","x":12.475,"y":0.565},{"s":"d","x":12.525,"y":0.592},{"s":"d","x":12.575,"y":0.617},{"s":"d","x":12.625,"y":0.642},{"s":"d","x":12.675,"y":0.666},{"s":"d","x":12.725,"y":0.689},{"s":"d","x":13.05,"y":0.805},{"s":"d","x":13.15,"y":0.834},{"s":"d","x":13.25,"y":0.86},{"s":"d","x":13.35,"y":0.885},{"s":"d","x":13.45,"y":0.908},
{"s":"e","x":9.3,"y":0.002},{"s":"e","x":9.55,"y":0.002},{"s":"e","x":9.8,"y":0.003},{"s":"e","x":10.05,"y":0.003},{"s":"e","x":10.3,"y":0.004},{"s":"e","x":10.55,"y":0.005},{"s":"e","x":10.8,"y":0.007},{"s":"e","x":11.05,"y":0.009},{"s":"e","x":11.3,"y":0.012},{"s":"e","x":11.55,"y":0.016},{"s":"e","x":11.8,"y":0.022},{"s":"e","x":12,"y":0.03},{"s":"e","x":12.15,"y":0.04},{"s":"e","x":12.28,"y":0.056},{"s":"e","x":12.4,"y":0.075},{"s":"e","x":12.5,"y":0.1},{"s":"e","x":12.55,"y":0.112},{"s":"e","x":12.6,"y":0.125},{"s":"e","x":12.65,"y":0.14},{"s":"e","x":12.7,"y":0.157},{"s":"e","x":12.75,"y":0.177},{"s":"e","x":12.8,"y":0.2},{"s":"e","x":12.85,"y":0.235},{"s":"e","x":12.9,"y":0.275},{"s":"e","x":12.95,"y":0.32},{"s":"e","x":13,"y":0.365},{"s":"e","x":13.05,"y":0.41},{"s":"e","x":13.1,"y":0.455},{"s":"e","x":13.15,"y":0.5},{"s":"e","x":13.2,"y":0.54},{"s":"e","x":13.25,"y":0.58},{"s":"e","x":13.3,"y":0.62},{"s":"e","x":13.35,"y":0.655},{"s":"e","x":13.4,"y":0.69},{"s":"e","x":13.45,"y":0.72},{"s":"e","x":13.5,"y":0.75},{"s":"e","x":13.55,"y":0.775},{"s":"e","x":13.6,"y":0.8},{"s":"e","x":13.65,"y":0.822},{"s":"e","x":13.7,"y":0.842},{"s":"e","x":13.75,"y":0.862},{"s":"e","x":13.8,"y":0.88},{"s":"e","x":13.85,"y":0.897},{"s":"e","x":13.9,"y":0.913},{"s":"e","x":13.95,"y":0.928},{"s":"e","x":14,"y":0.942},{"s":"e","x":14.1,"y":0.966},{"s":"e","x":14.2,"y":0.985},{"s":"e","x":14.3,"y":1},
{"s":"e","x":12.825,"y":0.217},{"s":"e","x":12.875,"y":0.255},{"s":"e","x":12.925,"y":0.297},{"s":"e","x":12.975,"y":0.342},{"s":"e","x":13.025,"y":0.387},{"s":"e","x":13.075,"y":0.432},{"s":"e","x":13.125,"y":0.477},{"s":"e","x":13.175,"y":0.52},{"s":"e","x":13.225,"y":0.56},{"s":"e","x":13.275,"y":0.6},{"s":"e","x":13.325,"y":0.637},{"s":"e","x":13.375,"y":0.672},{"s":"e","x":13.425,"y":0.705},{"s":"e","x":13.475,"y":0.735},{"s":"e","x":13.525,"y":0.762},{"s":"e","x":13.575,"y":0.787},{"s":"e","x":13.625,"y":0.811},
{"s":"f","x":9.7,"y":0.001},{"s":"f","x":9.95,"y":0.001},{"s":"f","x":10.2,"y":0.002},{"s":"f","x":10.45,"y":0.002},{"s":"f","x":10.7,"y":0.003},{"s":"f","x":10.95,"y":0.004},{"s":"f","x":11.2,"y":0.005},{"s":"f","x":11.45,"y":0.006},{"s":"f","x":11.7,"y":0.008},{"s":"f","x":11.95,"y":0.01},{"s":"f","x":12.2,"y":0.013},{"s":"f","x":12.45,"y":0.018},{"s":"f","x":12.7,"y":0.025},{"s":"f","x":12.9,"y":0.035},{"s":"f","x":13.05,"y":0.05},{"s":"f","x":13.2,"y":0.075},{"s":"f","x":13.3,"y":0.095},{"s":"f","x":13.4,"y":0.115},{"s":"f","x":13.5,"y":0.14},{"s":"f","x":13.55,"y":0.163},{"s":"f","x":13.6,"y":0.19},{"s":"f","x":13.65,"y":0.228},{"s":"f","x":13.7,"y":0.27},{"s":"f","x":13.75,"y":0.315},{"s":"f","x":13.8,"y":0.36},{"s":"f","x":13.85,"y":0.41},{"s":"f","x":13.9,"y":0.46},{"s":"f","x":13.95,"y":0.515},{"s":"f","x":14,"y":0.57},{"s":"f","x":14.05,"y":0.615},{"s":"f","x":14.1,"y":0.66},{"s":"f","x":14.15,"y":0.71},{"s":"f","x":14.2,"y":0.76},{"s":"f","x":14.25,"y":0.8},{"s":"f","x":14.3,"y":0.84},{"s":"f","x":14.35,"y":0.877},{"s":"f","x":14.4,"y":0.91},{"s":"f","x":14.45,"y":0.937},{"s":"f","x":14.5,"y":0.96},{"s":"f","x":14.55,"y":0.977},{"s":"f","x":14.6,"y":0.99},{"s":"f","x":14.7,"y":1},{"s":"f","x":14.8,"y":1},
{"s":"f","x":13.575,"y":0.176},{"s":"f","x":13.625,"y":0.209},{"s":"f","x":13.675,"y":0.249},{"s":"f","x":13.725,"y":0.292},{"s":"f","x":13.775,"y":0.337},{"s":"f","x":13.825,"y":0.385},{"s":"f","x":13.875,"y":0.435},{"s":"f","x":13.925,"y":0.487},{"s":"f","x":13.975,"y":0.542},{"s":"f","x":14.025,"y":0.592},{"s":"f","x":14.075,"y":0.637},{"s":"f","x":14.125,"y":0.685},{"s":"f","x":14.175,"y":0.735},{"s":"f","x":14.225,"y":0.78},{"s":"f","x":14.275,"y":0.82},{"s":"f","x":14.325,"y":0.858},{"s":"f","x":14.375,"y":0.893},{"s":"f","x":14.425,"y":0.923},{"s":"f","x":14.475,"y":0.948},
{"s":"g","x":9.7,"y":0.001},{"s":"g","x":12,"y":0.001},{"s":"g","x":14,"y":0.005},{"s":"g","x":14.25,"y":0.012},{"s":"g","x":14.5,"y":0.03},{"s":"g","x":14.7,"y":0.12},{"s":"g","x":14.9,"y":0.3},{"s":"g","x":15.05,"y":0.5},{"s":"g","x":15.16,"y":0.67},{"s":"g","x":15.2,"y":0.8},{"s":"g","x":15.25,"y":0.92},{"s":"g","x":15.3,"y":0.98},{"s":"g","x":15.35,"y":1}
]
},
"vconcat":[
{"hconcat":[
{"width":179,"height":137,"title":"SNR=25dB, ETU, Spatial Multiplexing","data":{"name":"p1"},
"encoding":{
"x":{"field":"x","type":"quantitative","scale":{"domain":[4,9],"nice":false},"axis":{"values":[4,5,6,7,8,9],"title":"Mutual Information per Stream (bits)"}},
"y":{"field":"y","type":"quantitative","scale":{"domain":[0,1],"nice":false},"axis":{"values":[0,0.2,0.4,0.6,0.8,1],"format":"~g","title":null}},
"color":{"field":"s","type":"nominal","scale":{"domain":["a","b","c","d","e","f","g"],"range":["#0000ff","#00ff00","#000000","#0000ff","#00ffff","#000000","#0000ff"]},
"legend":{"orient":"none","legendX":-69,"legendY":0,"title":null,"fillColor":"white","strokeColor":"black","padding":3,"cornerRadius":0,"symbolSize":36,"symbolStrokeWidth":1,"symbolOffset":4,"labelOffset":11,"rowPadding":4,"labelFontSize":9,"labelColor":"black","labelLimit":0,
"labelExpr":"datum.value==='a'?'KT=1, KR=1,(M=100%,A=100%)':datum.value==='b'?'KT=1, KR=2,(M=169%,A=172%)':datum.value==='c'?'KT=1, KR=3,(M=238%,A=244%)':datum.value==='d'?'Multitap 3,(M=162%,A=149%)':datum.value==='e'?'Multitap 5,(M=203%,A=183%)':datum.value==='f'?'Multitap 7,(M=245%,A=217%)':'Optimum (freq. flat)'"}}
},
"layer":[
{"mark":"line","encoding":{"strokeDash":{"field":"s","type":"nominal","scale":{"domain":["a","b","c","d","e","f","g"],"range":[[1,0],[1,0],[5,2,1,2],[1,0],[1,0],[1,0],[1,2]]},"legend":{"title":null}}}},
{"transform":[{"filter":{"field":"s","oneOf":["b","d","e","f"]}}],"mark":"point","encoding":{"shape":{"field":"s","type":"nominal","scale":{"domain":["a","b","c","d","e","f","g"],"range":["M-3.7,0L3.5,0","M-1,0L1,0M0,-1L0,1M-0.7,-0.7L0.7,0.7M-0.7,0.7L0.7,-0.7","M-3.7,0L3.5,0","square","circle","triangle-up","M-3.7,0L3.5,0"]},"legend":{"title":null}}}}
]},
{"width":179,"height":137,"title":"SNR=35dB, ETU, Spatial Multiplexing","data":{"name":"p2"},
"encoding":{
"x":{"field":"x","type":"quantitative","scale":{"domain":[7,12],"nice":false},"axis":{"values":[7,8,9,10,11,12],"title":"Mutual Information per Stream (bits)"}},
"y":{"field":"y","type":"quantitative","scale":{"domain":[0,1],"nice":false},"axis":{"values":[0,0.2,0.4,0.6,0.8,1],"format":"~g","title":null}},
"color":{"field":"s","type":"nominal","scale":{"domain":["a","b","c","d","e","f","g"],"range":["#0000ff","#00ff00","#000000","#0000ff","#00ffff","#000000","#0000ff"]},"legend":null}
},
"layer":[
{"mark":"line","encoding":{"strokeDash":{"field":"s","type":"nominal","scale":{"domain":["a","b","c","d","e","f","g"],"range":[[1,0],[1,0],[5,2,1,2],[1,0],[1,0],[1,0],[1,2]]},"legend":null}}},
{"transform":[{"filter":{"field":"s","oneOf":["b","d","e","f"]}}],"mark":"point","encoding":{"shape":{"field":"s","type":"nominal","scale":{"domain":["a","b","c","d","e","f","g"],"range":["M-3.7,0L3.5,0","M-1,0L1,0M0,-1L0,1M-0.7,-0.7L0.7,0.7M-0.7,0.7L0.7,-0.7","M-3.7,0L3.5,0","square","circle","triangle-up","M-3.7,0L3.5,0"]},"legend":null}}}
]}
],"spacing":32},
{"hconcat":[
{"width":179,"height":137,"title":"SNR=45dB, ETU, Spatial Multiplexing","data":{"name":"p3"},
"encoding":{
"x":{"field":"x","type":"quantitative","scale":{"domain":[7,14],"nice":false},"axis":{"values":[8,10,12,14],"title":"Mutual Information per Stream (bits)"}},
"y":{"field":"y","type":"quantitative","scale":{"domain":[0,1],"nice":false},"axis":{"values":[0,0.2,0.4,0.6,0.8,1],"format":"~g","title":null}},
"color":{"field":"s","type":"nominal","scale":{"domain":["a","b","c","d","e","f","g"],"range":["#0000ff","#00ff00","#000000","#0000ff","#00ffff","#000000","#0000ff"]},"legend":null}
},
"layer":[
{"mark":"line","encoding":{"strokeDash":{"field":"s","type":"nominal","scale":{"domain":["a","b","c","d","e","f","g"],"range":[[1,0],[1,0],[5,2,1,2],[1,0],[1,0],[1,0],[1,2]]},"legend":null}}},
{"transform":[{"filter":{"field":"s","oneOf":["b","d","e","f"]}}],"mark":"point","encoding":{"shape":{"field":"s","type":"nominal","scale":{"domain":["a","b","c","d","e","f","g"],"range":["M-3.7,0L3.5,0","M-1,0L1,0M0,-1L0,1M-0.7,-0.7L0.7,0.7M-0.7,0.7L0.7,-0.7","M-3.7,0L3.5,0","square","circle","triangle-up","M-3.7,0L3.5,0"]},"legend":null}}}
]},
{"width":179,"height":137,"title":"SNR=55dB, ETU, Spatial Multiplexing","data":{"name":"p4"},
"encoding":{
"x":{"field":"x","type":"quantitative","scale":{"domain":[7,16],"nice":false},"axis":{"values":[8,10,12,14,16],"title":"Mutual Information per Stream (bits)"}},
"y":{"field":"y","type":"quantitative","scale":{"domain":[0,1],"nice":false},"axis":{"values":[0,0.2,0.4,0.6,0.8,1],"format":"~g","title":null}},
"color":{"field":"s","type":"nominal","scale":{"domain":["a","b","c","d","e","f","g"],"range":["#0000ff","#00ff00","#000000","#0000ff","#00ffff","#000000","#0000ff"]},"legend":null}
},
"layer":[
{"mark":"line","encoding":{"strokeDash":{"field":"s","type":"nominal","scale":{"domain":["a","b","c","d","e","f","g"],"range":[[1,0],[1,0],[5,2,1,2],[1,0],[1,0],[1,0],[1,2]]},"legend":null}}},
{"transform":[{"filter":{"field":"s","oneOf":["b","d","e","f"]}}],"mark":"point","encoding":{"shape":{"field":"s","type":"nominal","scale":{"domain":["a","b","c","d","e","f","g"],"range":["M-3.7,0L3.5,0","M-1,0L1,0M0,-1L0,1M-0.7,-0.7L0.7,0.7M-0.7,0.7L0.7,-0.7","M-3.7,0L3.5,0","square","circle","triangle-up","M-3.7,0L3.5,0"]},"legend":null}}}
]}
],"spacing":32}
],
"spacing":12
}
